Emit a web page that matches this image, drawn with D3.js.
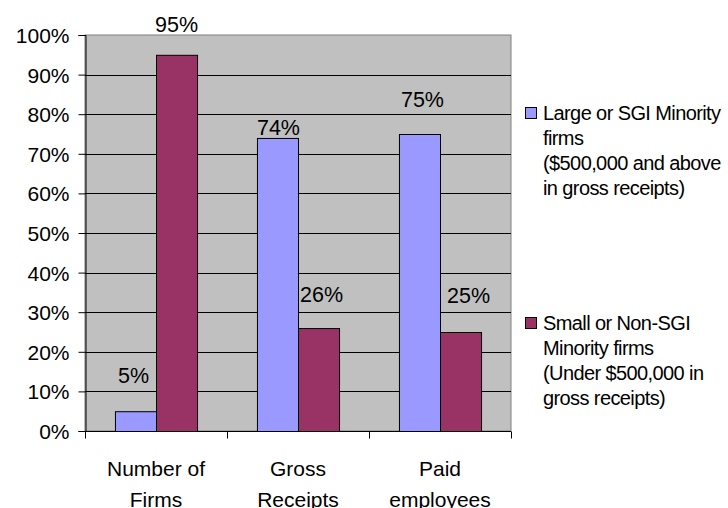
<!DOCTYPE html>
<html><head><meta charset="utf-8">
<script src="https://cdn.jsdelivr.net/npm/d3@7"></script>
<style>body{margin:0;background:#fff;} svg{display:block;font-family:"Liberation Sans",Arial,sans-serif;}</style>
</head><body>
<script>
const categories = [["Number of","Firms"],["Gross","Receipts"],["Paid","employees"]];
const seriesNames = ["large","small"];
const largeValues = [5, 74, 75];
const smallValues = [95, 26, 25];
const yTicks = [0,10,20,30,40,50,60,70,80,90,100];
const legendLines = [
  ["Large or SGI Minority","firms","($500,000 and above","in gross receipts)"],
  ["Small or Non-SGI","Minority firms","(Under $500,000 in","gross receipts)"]
];
const colors = ["#9999FF","#993366"];
// manual label nudges (dx, dy above bar top), as in the original chart
const labelNudge = {
  large: [[-2,28],[1,3],[3,27]],
  small: [[0,23],[3,26],[8,29]]
};

(function(){
const W=728,H=508;
const svg=d3.select("body").append("svg").attr("width",W).attr("height",H);
const pLeft=85,pRight=511,pTop=35,pBottom=431;
const catKeys=categories.map(c=>c.join(" "));
const x0=d3.scaleBand().domain(catKeys).range([pLeft,pRight]).padding(0);
const x1=d3.scaleBand().domain(seriesNames).range([0,x0.bandwidth()]).paddingInner(0).paddingOuter(0.73);
const y=d3.scaleLinear().domain([0,100]).range([pBottom,pTop]);

svg.append("rect").attr("x",pLeft).attr("y",pTop).attr("width",pRight-pLeft).attr("height",pBottom-pTop)
  .attr("fill","#C0C0C0").attr("stroke","#808080").attr("stroke-width",1);
svg.append("g").selectAll("line").data(yTicks.filter(t=>t>0&&t<100)).join("line")
  .attr("x1",pLeft).attr("x2",pRight).attr("y1",d=>Math.round(y(d))+0.5).attr("y2",d=>Math.round(y(d))+0.5)
  .attr("stroke","#000").attr("stroke-width",1);

const yAxis=d3.axisLeft(y).tickValues(yTicks).tickFormat(d=>d+"%").tickSize(7).tickPadding(9);
const gy=svg.append("g").attr("transform",`translate(${pLeft+0.5},0)`).call(yAxis);
gy.select(".domain").attr("stroke","#000");
gy.selectAll(".tick line").attr("stroke","#000");
gy.selectAll(".tick text").attr("font-size",21).attr("fill","#000").attr("font-family","Liberation Sans, Arial, sans-serif").attr("dy","0.36em");

const gx=svg.append("g").attr("transform",`translate(0,${pBottom+0.5})`);
gx.append("line").attr("x1",pLeft).attr("x2",pRight).attr("stroke","#000");
const xt=[...catKeys.map(k=>x0(k)),pRight];
gx.selectAll("line.t").data(xt).join("line").attr("class","t")
  .attr("x1",d=>Math.round(d)+0.5).attr("x2",d=>Math.round(d)+0.5).attr("y1",0).attr("y2",7).attr("stroke","#000");
categories.forEach((c,i)=>{
  const cx=x0(catKeys[i])+x0.bandwidth()/2;
  const t=gx.append("text").attr("text-anchor","middle")
    .attr("font-size",21).attr("fill","#000");
  c.forEach((ln,j)=>t.append("tspan").attr("x",cx).attr("y",44+j*31).text(ln));
});

const data=categories.map((c,i)=>({key:catKeys[i],vals:[{s:"large",v:largeValues[i],i},{s:"small",v:smallValues[i],i}]}));
const groups=svg.append("g").selectAll("g").data(data).join("g").attr("transform",d=>`translate(${x0(d.key)},0)`);
groups.selectAll("rect").data(d=>d.vals).join("rect")
  .attr("x",d=>x1(d.s)+0.5).attr("y",d=>y(d.v)+0.5).attr("width",x1.bandwidth()).attr("height",d=>pBottom-y(d.v))
  .attr("fill",(d,j)=>colors[j]).attr("stroke","#000").attr("stroke-width",1);
groups.selectAll("text").data(d=>d.vals).join("text")
  .attr("x",d=>x1(d.s)+x1.bandwidth()/2+labelNudge[d.s][d.i][0])
  .attr("y",d=>y(d.v)-labelNudge[d.s][d.i][1])
  .attr("text-anchor","middle").attr("font-size",21.5).attr("fill","#000")
  .text(d=>d.v+"%");

const legendY=[113,323];
legendLines.forEach((lines,k)=>{
  const g=svg.append("g");
  g.append("rect").attr("x",525.5).attr("y",legendY[k]-5.5).attr("width",11).attr("height",11)
    .attr("fill",colors[k]).attr("stroke","#000").attr("stroke-width",1);
  const t=g.append("text").attr("font-size",20).attr("letter-spacing","-0.6").attr("fill","#000");
  lines.forEach((ln,j)=>t.append("tspan").attr("x",543).attr("y",legendY[k]+7+j*25).text(ln));
});
})();
</script>
</body></html>
